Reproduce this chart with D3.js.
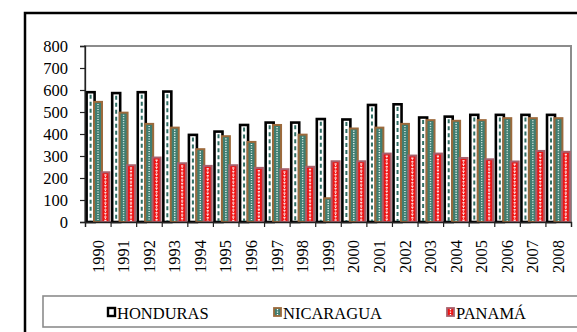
<!DOCTYPE html>
<html>
<head>
<meta charset="utf-8">
<script src="https://cdn.jsdelivr.net/npm/d3@7"></script>
<style>
  .lbl { font-family: 'Liberation Serif', 'Times New Roman', serif; font-size: 16.5px; fill: #000; }
</style>
</head>
<body style="margin:0;background:#fff">
<svg id="chart" width="577" height="332" style="display:block"></svg>
<script>
// Years on the category axis
const years = ["1990","1991","1992","1993","1994","1995","1996","1997","1998","1999",
               "2000","2001","2002","2003","2004","2005","2006","2007","2008"];
// Series names
const seriesNames = ["HONDURAS", "NICARAGUA", "PANAMÁ"];
// Series values per year
const honduras  = [590, 586, 590, 593, 396, 411, 441, 452, 452, 468, 466, 532, 535, 475, 479, 487, 487, 487, 487];
const nicaragua = [546, 497, 446, 429, 331, 390, 364, 441, 397, 108, 425, 429, 446, 463, 460, 463, 472, 472, 472];
const panama    = [226, 258, 293, 267, 255, 258, 246, 240, 251, 276, 276, 311, 302, 311, 291, 285, 275, 323, 319];
// Value axis ticks
const yTicks = [0, 100, 200, 300, 400, 500, 600, 700, 800];

const FONT = "Liberation Serif";

const svg = d3.select("#chart");
const plot = { left: 85, right: 571, top: 46, bottom: 222 };

// Outer chart frame (runs past the window edges)
svg.append("rect")
  .attr("x", 25).attr("y", 13).attr("width", 620).attr("height", 400)
  .attr("fill", "#fff").attr("stroke", "#000").attr("stroke-width", 2.5);

const x = d3.scaleBand().domain(years).range([plot.left, plot.right]).padding(0);
const y = d3.scaleLinear().domain([0, 800]).range([plot.bottom, plot.top]);
// Left edge of each series' bar inside a year band (bars overlap slightly)
const offset = d3.scaleLinear().domain([0, 2]).range([1.6, 16.4]);
const barW = 8;

// Plot area border
svg.append("rect")
  .attr("x", plot.left).attr("y", plot.top)
  .attr("width", plot.right - plot.left).attr("height", plot.bottom - plot.top)
  .attr("fill", "#fff").attr("stroke", "#8c8c8c").attr("stroke-width", 2);

const styles = [
  { fill: "#fff",    stroke: "#000",    sw: 2.6, line: "#2f6e64", lw: 2,   dash: "4,3" },
  { fill: "#3f7d70", stroke: "#9c6a3c", sw: 2,   line: "#e8f4ee", lw: 1.4, dash: "1.2,1.3" },
  { fill: "#ee1515", stroke: "#a8606c", sw: 2,   line: "#ffd8d8", lw: 2.2, dash: "1.5,2" }
];
const seriesData = [honduras, nicaragua, panama];

seriesData.forEach((vals, si) => {
  const st = styles[si];
  const g = svg.append("g").attr("class", "series-" + si);
  const bars = g.selectAll("g").data(years.map((yr, i) => ({ yr, v: vals[i] }))).join("g");
  bars.append("rect")
    .attr("x", d => x(d.yr) + offset(si))
    .attr("y", d => y(d.v))
    .attr("width", barW)
    .attr("height", d => y(0) - y(d.v))
    .attr("fill", st.fill)
    .attr("stroke", st.stroke)
    .attr("stroke-width", st.sw);
  bars.append("line")
    .attr("x1", d => x(d.yr) + offset(si) + barW / 2)
    .attr("x2", d => x(d.yr) + offset(si) + barW / 2)
    .attr("y1", d => y(d.v) + st.sw)
    .attr("y2", y(0) - 1)
    .attr("stroke", st.line)
    .attr("stroke-width", st.lw)
    .attr("stroke-dasharray", st.dash);
  if (si === 2) {
    bars.append("line")
      .attr("x1", d => x(d.yr) + offset(si) + barW / 2)
      .attr("x2", d => x(d.yr) + offset(si) + barW / 2)
      .attr("y1", d => y(d.v) + st.sw + 1.7)
      .attr("y2", y(0) - 1)
      .attr("stroke", "#fff")
      .attr("stroke-width", 1)
      .attr("stroke-dasharray", "1,2.5");
  }
});

// Value axis (line and ticks)
const yAxis = svg.append("g")
  .attr("transform", `translate(${plot.left},0)`)
  .call(d3.axisLeft(y).tickValues(yTicks).tickSize(5).tickFormat(""));
yAxis.select(".domain").attr("stroke", "#222").attr("stroke-width", 1.3);
yAxis.selectAll(".tick line").attr("stroke", "#222").attr("stroke-width", 1.2);

// Value axis labels
svg.append("g").selectAll("text").data(yTicks).join("text")
  .attr("class", "lbl")
  .attr("font-family", FONT)
  .attr("x", plot.left - 17)
  .attr("y", d => y(d))
  .attr("dy", "0.35em")
  .attr("text-anchor", "end")
  .text(d => d);

// Category axis: boundary ticks
const xEdge = d3.scaleLinear().domain([0, years.length]).range([plot.left, plot.right]);
const xTickAxis = svg.append("g")
  .attr("transform", `translate(0,${plot.bottom})`)
  .call(d3.axisBottom(xEdge).tickValues(d3.range(years.length + 1)).tickSize(5).tickFormat(""));
xTickAxis.select(".domain").attr("stroke", "#222").attr("stroke-width", 1.3);
xTickAxis.selectAll(".tick line").attr("stroke", "#222").attr("stroke-width", 1.2);

// Category axis: rotated year labels
svg.append("g").selectAll("text").data(years).join("text")
  .attr("class", "lbl")
  .attr("font-family", FONT)
  .attr("transform", d => `translate(${x(d) + x.bandwidth() / 2},${plot.bottom + 18}) rotate(-90)`)
  .attr("dy", "0.35em")
  .attr("text-anchor", "end")
  .text(d => d);

// Legend
svg.append("rect")
  .attr("x", 43).attr("y", 296).attr("width", 600).attr("height", 31)
  .attr("fill", "#fff").attr("stroke", "#8c8c8c").attr("stroke-width", 1.6);

const legendX = [107, 273, 446];
const lg = svg.append("g").selectAll("g").data(seriesNames).join("g")
  .attr("transform", (d, i) => `translate(${legendX[i]},308)`);
lg.append("rect")
  .attr("x", 1).attr("y", 0).attr("width", 7).attr("height", 8)
  .attr("fill", (d, i) => styles[i].fill)
  .attr("stroke", (d, i) => styles[i].stroke)
  .attr("stroke-width", (d, i) => i === 0 ? 2.4 : 1.8);
lg.filter((d, i) => i > 0).append("line")
  .attr("x1", 4.5).attr("x2", 4.5).attr("y1", 1).attr("y2", 7)
  .attr("stroke", "#fff").attr("stroke-width", 1.3).attr("stroke-dasharray", "1.2,1.3");
lg.append("text")
  .attr("class", "lbl")
  .attr("font-family", FONT)
  .attr("x", 10).attr("y", 10.5)
  .text(d => d);
</script>
</body>
</html>
